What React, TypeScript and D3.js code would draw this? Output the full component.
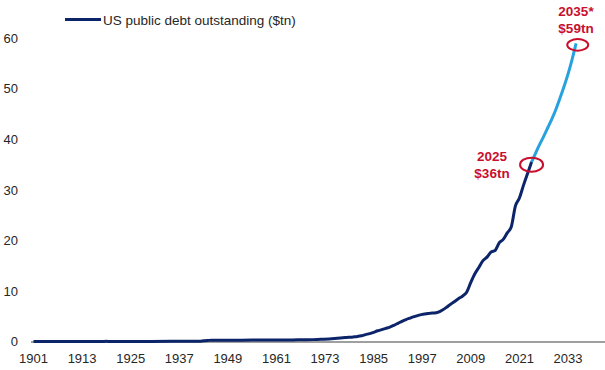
import React from 'react';
import * as d3 from 'd3';

// actual debt, $tn
const actualYears = [
  1901, 1905, 1910, 1916, 1917, 1918, 1919, 1920, 1925, 1930, 1935, 1940, 1941, 1942, 1943, 1944, 1945,
  1946, 1950, 1955, 1960, 1965, 1970, 1972, 1974, 1976, 1978, 1980, 1981, 1982, 1983, 1984, 1985, 1986,
  1987, 1988, 1989, 1990, 1991, 1992, 1993, 1994, 1995, 1996, 1997, 1998, 1999, 2000, 2001, 2002, 2003,
  2004, 2005, 2006, 2007, 2008, 2009, 2010, 2011, 2012, 2013, 2014, 2015, 2016, 2017, 2018, 2019, 2020,
  2021, 2022, 2023, 2024,
];
const actualDebt = [
  0.001, 0.001, 0.001, 0.001, 0.003, 0.012, 0.025, 0.024, 0.021, 0.016, 0.029, 0.043, 0.049, 0.072, 0.137,
  0.201, 0.259, 0.269, 0.257, 0.274, 0.286, 0.317, 0.371, 0.427, 0.475, 0.62, 0.772, 0.908, 0.998, 1.14,
  1.37, 1.56, 1.82, 2.12, 2.35, 2.6, 2.86, 3.21, 3.6, 4.0, 4.35, 4.64, 4.92, 5.18, 5.37, 5.48, 5.61, 5.63,
  5.81, 6.23, 6.78, 7.38, 7.93, 8.51, 9.01, 9.8, 11.7, 13.4, 14.7, 16.0, 16.7, 17.7, 18.0, 19.5, 20.2,
  21.5, 22.7, 26.8, 28.4, 30.9, 33.2, 35.5,
];

// projection, $tn
const projYears = [2024, 2025, 2026, 2027, 2028, 2029, 2030, 2031, 2032, 2033, 2034, 2035];
const projDebt = [35.5, 37.3, 39.0, 40.6, 42.3, 44.0, 45.9, 48.1, 50.4, 52.9, 55.8, 59.0];

const tickYears = [1901, 1913, 1925, 1937, 1949, 1961, 1973, 1985, 1997, 2009, 2021, 2033];
const yTicks = [0, 10, 20, 30, 40, 50, 60];

const legendLabel = 'US public debt outstanding ($tn)';

const NAVY = '#0c2469';
const SKY = '#27a2df';
const RED = '#c8102e';
const FONT = '"Liberation Sans", Arial, sans-serif';

export default function App() {
  const width = 605;
  const height = 370;

  const x = d3.scaleLinear().domain([1901, 2033]).range([33.5, 568]);
  const y = d3.scaleLinear().domain([0, 60]).range([341.5, 38.3]);

  const line = d3
    .line<[number, number]>()
    .x((d) => x(d[0]))
    .y((d) => y(d[1]))
    .curve(d3.curveMonotoneX);

  const actualPath = line(actualYears.map((yr, i) => [yr, actualDebt[i]]) as [number, number][]);
  const projPath = line(projYears.map((yr, i) => [yr, projDebt[i]]) as [number, number][]);

  return (
    <svg
      width={width}
      height={height}
      style={{ position: 'absolute', left: 0, top: 0, background: '#fff' }}
      fontFamily={FONT}
    >
      {/* y labels */}
      {yTicks.map((t) => (
        <text key={t} x={18} y={y(t) + 4.6} textAnchor="end" fontSize={13} fill="#262626">
          {t}
        </text>
      ))}

      {/* baseline */}
      <line x1={31} x2={605} y1={y(0) + 0.5} y2={y(0) + 0.5} stroke="#7f7f7f" strokeWidth={1.5} />

      {/* x labels */}
      {tickYears.map((t) => (
        <text key={t} x={x(t)} y={363.3} textAnchor="middle" fontSize={13} fill="#262626">
          {t}
        </text>
      ))}

      <path d={projPath || ''} fill="none" stroke={SKY} strokeWidth={3} />
      <path d={actualPath || ''} fill="none" stroke={NAVY} strokeWidth={3} />

      {/* legend */}
      <line x1={65} x2={101} y1={19.5} y2={19.5} stroke={NAVY} strokeWidth={3} />
      <text x={103} y={24.5} fontSize={13.5} fill="#262626">
        {legendLabel}
      </text>

      {/* annotations */}
      <ellipse cx={x(2024)} cy={y(35)} rx={11.5} ry={7} fill="none" stroke={RED} strokeWidth={2} />
      <ellipse cx={x(2035.4)} cy={y(58.7)} rx={10.5} ry={5.8} fill="none" stroke={RED} strokeWidth={2} />
      <g fill={RED} fontWeight="bold" fontSize={13.5} textAnchor="middle">
        <text x={492} y={160.7}>2025</text>
        <text x={492} y={177.7}>$36tn</text>
        <text x={576} y={16}>2035*</text>
        <text x={576} y={33.3}>$59tn</text>
      </g>
    </svg>
  );
}
